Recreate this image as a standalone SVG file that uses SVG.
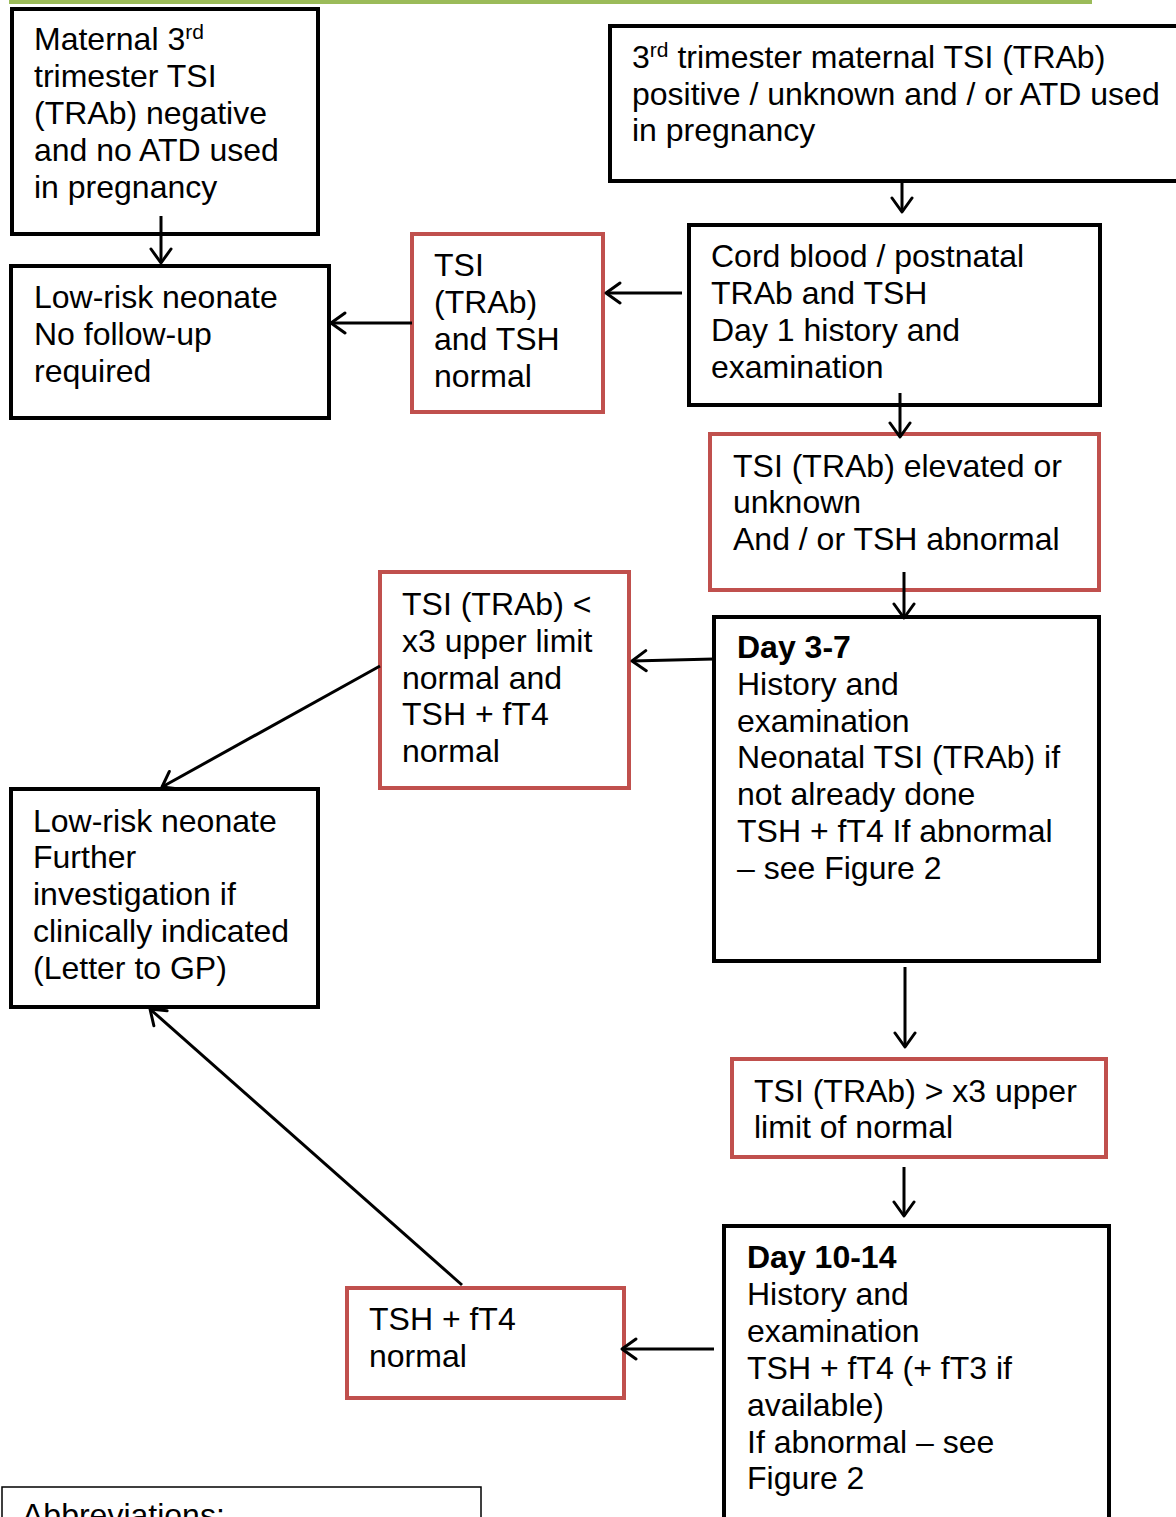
<svg xmlns="http://www.w3.org/2000/svg" width="1176" height="1517" viewBox="0 0 1176 1517">
<style>
text{font-family:"Liberation Sans",Arial,sans-serif;font-size:32px;fill:#000}
.b{font-weight:bold}
.sup{font-size:21px}
.blk{fill:#fff;stroke:#000;stroke-width:4}
.red{fill:#fff;stroke:#C0504D;stroke-width:4}
.con{stroke:#000;stroke-width:3;fill:none;marker-end:url(#arr)}
</style>
<defs>
<marker id="arr" markerUnits="userSpaceOnUse" viewBox="0 0 20 24" refX="17" refY="12" markerWidth="20" markerHeight="24" orient="auto">
<path d="M3,2 L17,12 L3,22" fill="none" stroke="#000" stroke-width="3" stroke-linecap="round" stroke-linejoin="round"/>
</marker>
</defs>
<rect x="11" y="-30" width="1079" height="32" fill="none" stroke="#9BBB59" stroke-width="4"/>

<g id="nodeA">
<rect class="blk" x="12" y="9" width="306" height="225"/>
<text x="34" y="50">Maternal 3<tspan class="sup" dy="-11">rd</tspan></text>
<text x="34" y="87">trimester TSI</text>
<text x="34" y="124">(TRAb) negative</text>
<text x="34" y="161">and no ATD used</text>
<text x="34" y="198">in pregnancy</text>
</g>
<g id="nodeB">
<rect class="blk" x="610" y="26" width="600" height="155"/>
<text x="632" y="68">3<tspan class="sup" dy="-11">rd</tspan><tspan dy="11"> trimester maternal TSI (TRAb)</tspan></text>
<text x="632" y="105">positive / unknown and / or ATD used</text>
<text x="632" y="141">in pregnancy</text>
</g>
<g id="nodeC">
<rect class="blk" x="11" y="266" width="318" height="152"/>
<text x="34" y="308">Low-risk neonate</text>
<text x="34" y="345">No follow-up</text>
<text x="34" y="382">required</text>
</g>
<g id="nodeD">
<rect class="red" x="412" y="234" width="191" height="178"/>
<text x="434" y="276">TSI</text>
<text x="434" y="313">(TRAb)</text>
<text x="434" y="350">and TSH</text>
<text x="434" y="387">normal</text>
</g>
<g id="nodeE">
<rect class="blk" x="689" y="225" width="411" height="180"/>
<text x="711" y="267">Cord blood / postnatal</text>
<text x="711" y="304">TRAb and TSH</text>
<text x="711" y="341">Day 1 history and</text>
<text x="711" y="378">examination</text>
</g>
<g id="nodeF">
<rect class="red" x="710" y="434" width="389" height="156"/>
<text x="733" y="477">TSI (TRAb) elevated or</text>
<text x="733" y="513">unknown</text>
<text x="733" y="550">And / or TSH abnormal</text>
</g>
<g id="nodeG">
<rect class="blk" x="714" y="617" width="385" height="344"/>
<text class="b" x="737" y="658">Day 3-7</text>
<text x="737" y="695">History and</text>
<text x="737" y="732">examination</text>
<text x="737" y="768">Neonatal TSI (TRAb) if</text>
<text x="737" y="805">not already done</text>
<text x="737" y="842">TSH + fT4 If abnormal</text>
<text x="737" y="879">– see Figure 2</text>
</g>
<g id="nodeH">
<rect class="red" x="380" y="572" width="249" height="216"/>
<text x="402" y="615">TSI (TRAb) &lt;</text>
<text x="402" y="652">x3 upper limit</text>
<text x="402" y="689">normal and</text>
<text x="402" y="725">TSH + fT4</text>
<text x="402" y="762">normal</text>
</g>
<g id="nodeI">
<rect class="blk" x="11" y="789" width="307" height="218"/>
<text x="33" y="832">Low-risk neonate</text>
<text x="33" y="868">Further</text>
<text x="33" y="905">investigation if</text>
<text x="33" y="942">clinically indicated</text>
<text x="33" y="979">(Letter to GP)</text>
</g>
<g id="nodeJ">
<rect class="red" x="732" y="1059" width="374" height="98"/>
<text x="754" y="1102">TSI (TRAb) &gt; x3 upper</text>
<text x="754" y="1138">limit of normal</text>
</g>
<g id="nodeK">
<rect class="blk" x="724" y="1226" width="385" height="320"/>
<text class="b" x="747" y="1268">Day 10-14</text>
<text x="747" y="1305">History and</text>
<text x="747" y="1342">examination</text>
<text x="747" y="1379">TSH + fT4 (+ fT3 if</text>
<text x="747" y="1416">available)</text>
<text x="747" y="1453">If abnormal – see</text>
<text x="747" y="1489">Figure 2</text>
</g>
<g id="nodeL">
<rect class="red" x="347" y="1288" width="277" height="110"/>
<text x="369" y="1330">TSH + fT4</text>
<text x="369" y="1367">normal</text>
</g>
<g id="abbrev">
<rect x="2" y="1487" width="479" height="60" fill="#fff" stroke="#000" stroke-width="1.5"/>
<text x="22" y="1526">Abbreviations:</text>
</g>

<g id="connectors">
<line class="con" x1="161" y1="216" x2="161" y2="263"/>
<line class="con" x1="902" y1="183" x2="902" y2="212"/>
<line class="con" x1="682" y1="293" x2="606" y2="293"/>
<line class="con" x1="412" y1="323" x2="331" y2="323"/>
<line class="con" x1="900" y1="393" x2="900" y2="437"/>
<line class="con" x1="904" y1="572" x2="904" y2="618"/>
<line class="con" x1="714" y1="659" x2="632" y2="661"/>
<line class="con" x1="380" y1="666" x2="162" y2="787"/>
<line class="con" x1="905" y1="967" x2="905" y2="1047"/>
<line class="con" x1="904" y1="1167" x2="904" y2="1216"/>
<line class="con" x1="714" y1="1349" x2="622" y2="1349"/>
<line class="con" x1="462" y1="1285" x2="150" y2="1009"/>
</g>
</svg>
